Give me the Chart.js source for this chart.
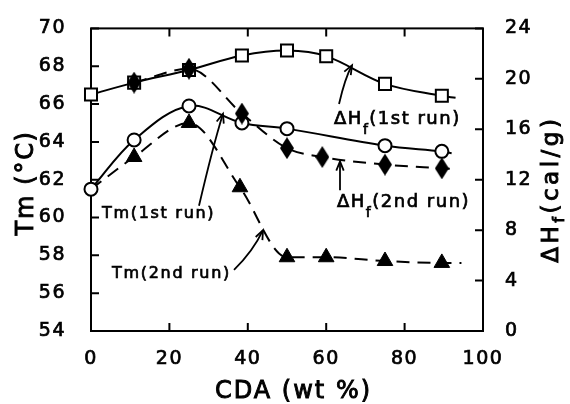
<!DOCTYPE html>
<html><head><meta charset="utf-8">
<script src="https://cdn.jsdelivr.net/npm/chart.js@4/dist/chart.umd.min.js"></script>
<style>html,body{margin:0;padding:0;background:#fff}canvas{display:block}</style>
</head><body>
<canvas id="c" width="570" height="404"></canvas>
<script>
// ---- data ----
// last entry of each series is only where the drawn curve ends (no marker)
const cdaTm1 = [0, 11, 25, 38.5, 50, 75, 89.5, 92];
const tm1Run = [61.5, 64.1, 65.9, 65.0, 64.7, 63.8, 63.5, 63.4];
const cdaTm2 = [0, 11, 25, 38, 50, 60, 75, 89.5, 94.5];
const tm2Run = [61.5, 63.2, 65.0, 61.6, 57.9, 57.9, 57.7, 57.6, 57.6];
const cdaH1 = [0, 11, 25, 38.5, 50, 60, 75, 89.5, 93];
const dH1Run = [18.75, 19.7, 20.7, 21.85, 22.25, 21.8, 19.6, 18.65, 18.5];
const cdaH2 = [11, 25, 38.5, 50, 59, 75, 89.5, 92];
const dH2Run = [19.7, 20.8, 17.25, 14.5, 13.8, 13.2, 12.9, 12.85];
const xTicks = [0, 20, 40, 60, 80, 100];
const tmTicks = [54, 56, 58, 60, 62, 64, 66, 68, 70];
const dHTicks = [0, 4, 8, 12, 16, 20, 24];

const FONT = "'DejaVu Sans', sans-serif";
const pts = (xs, ys) => xs.map((x, i) => ({x, y: ys[i]}));

// tall diamond marker
const diamond = document.createElement('canvas');
diamond.width = 14; diamond.height = 22;
(function(){const g = diamond.getContext('2d'); g.fillStyle = '#000'; g.beginPath();
  g.moveTo(7,0); g.lineTo(14,11); g.lineTo(7,22); g.lineTo(0,11); g.closePath(); g.fill();})();

const lastOff = (r, skipFirst) => ctx => {
  const n = ctx.dataset.data.length;
  if (ctx.dataIndex === n - 1) return 0;
  if (skipFirst && ctx.dataIndex === 0) return 0;
  return r;
};

const frameTicks = {
  id: 'frameTicks',
  beforeDraw(chart) { chart.ctx.letterSpacing = '1.5px'; },
  beforeDatasetsDraw(chart) {
    const {ctx, chartArea: {left, right, top, bottom}, scales: {x, y, y2}} = chart;
    ctx.save();
    ctx.strokeStyle = '#000'; ctx.lineWidth = 2;
    ctx.strokeRect(left, top, right - left, bottom - top);
    ctx.beginPath();
    x.ticks.forEach(t => { const p = x.getPixelForValue(t.value);
      ctx.moveTo(p, bottom); ctx.lineTo(p, bottom - 8); ctx.moveTo(p, top); ctx.lineTo(p, top + 8); });
    y.ticks.forEach(t => { const p = y.getPixelForValue(t.value); ctx.moveTo(left, p); ctx.lineTo(left + 8, p); });
    y2.ticks.forEach(t => { const p = y2.getPixelForValue(t.value); ctx.moveTo(right, p); ctx.lineTo(right - 8, p); });
    ctx.stroke();
    ctx.restore();
  },
  afterDraw(chart) {
    const {ctx, chartArea, scales: {x, y}} = chart;
    const P = (a, b) => [x.getPixelForValue(a), y.getPixelForValue(b)];
    function rich(parts, px, py, spacing, sw) {
      let cx = px;
      parts.forEach(p => {
        ctx.font = p.size + 'px ' + FONT;
        ctx.letterSpacing = spacing + 'px';
        ctx.lineWidth = sw || 0.7;
        ctx.fillText(p.t, cx, py + (p.dy || 0));
        ctx.strokeText(p.t, cx, py + (p.dy || 0));
        cx += ctx.measureText(p.t).width;
      });
      ctx.letterSpacing = '0px';
    }
    function arrow(s, c, t) {
      const [sx, sy] = P(...s), [cx, cy] = P(...c), [tx, ty] = P(...t);
      ctx.lineWidth = 1.8;
      ctx.beginPath(); ctx.moveTo(sx, sy); ctx.quadraticCurveTo(cx, cy, tx, ty); ctx.stroke();
      const ang = Math.atan2(ty - cy, tx - cx);
      ctx.beginPath();
      ctx.moveTo(tx - 10 * Math.cos(ang - 0.38), ty - 10 * Math.sin(ang - 0.38));
      ctx.lineTo(tx, ty);
      ctx.lineTo(tx - 10 * Math.cos(ang + 0.38), ty - 10 * Math.sin(ang + 0.38));
      ctx.stroke();
    }
    ctx.save();
    ctx.fillStyle = '#000'; ctx.strokeStyle = '#000';
    ctx.textBaseline = 'alphabetic'; ctx.textAlign = 'left';
    // annotations
    let [ax, ay] = P(62.0, 64.97);
    rich([{t: 'ΔH', size: 18}, {t: 'f', size: 14, dy: 10}, {t: '(1st run)', size: 18}], ax, ay, 1.5);
    arrow([63.27, 66.0], [64.8, 67.38], [66.58, 68.05]);
    [ax, ay] = P(62.76, 60.56);
    rich([{t: 'ΔH', size: 18}, {t: 'f', size: 14, dy: 10}, {t: '(2nd run)', size: 18}], ax, ay, 1.5);
    arrow([63.52, 61.44], [63.52, 62.2], [63.52, 62.97]);
    [ax, ay] = P(2.8, 59.95);
    rich([{t: 'Tm(1st run)', size: 16}], ax, ay, 1.7);
    arrow([27.55, 60.62], [31.12, 63.79], [33.67, 65.49]);
    [ax, ay] = P(5.36, 56.82);
    rich([{t: 'Tm(2nd run)', size: 16}], ax, ay, 1.7);
    arrow([36.48, 57.23], [41.33, 58.21], [43.88, 59.33]);
    // x axis title
    rich([{t: 'CDA (wt %)', size: 24}], chartArea.left + 124, chartArea.bottom + 67, 2, 0.9);
    ctx.save();
    // left axis title (rotated)
    ctx.translate(chartArea.left - 58, chartArea.top + 207);
    ctx.rotate(-Math.PI / 2);
    rich([{t: 'Tm (°C)', size: 24}], 0, 0, 1.7, 0.9);
    ctx.restore();
    // right axis title (rotated)
    ctx.translate(chartArea.right + 75, (chartArea.top + chartArea.bottom) / 2 + 83);
    ctx.rotate(-Math.PI / 2);
    rich([{t: 'ΔH', size: 23}, {t: 'f', size: 16, dy: 6}, {t: '(cal/g)', size: 23}], 0, 0, 3.5, 0.9);
    ctx.restore();
  }
};

const tickOpts = (pad) => ({font: {family: FONT, size: 19}, color: '#000', padding: pad,
  textStrokeColor: '#000', textStrokeWidth: 0.7, maxRotation: 0});
new Chart(document.getElementById('c'), {
  type: 'line',
  data: {
    datasets: [
      {label: 'ΔHf (2nd run)', data: pts(cdaH2, dH2Run), yAxisID: 'y2', order: 0,
       borderColor: '#000', borderWidth: 2, borderDash: [13, 8], cubicInterpolationMode: 'monotone',
       pointStyle: diamond, pointRadius: lastOff(8), backgroundColor: '#000', clip: false},
      {label: 'Tm (1st run)', data: pts(cdaTm1, tm1Run), yAxisID: 'y', order: 1,
       borderColor: '#000', borderWidth: 2, tension: 0.35,
       pointStyle: 'circle', pointRadius: lastOff(6.5), pointBorderWidth: 2,
       pointBackgroundColor: '#fff', pointBorderColor: '#000', clip: false},
      {label: 'ΔHf (1st run)', data: pts(cdaH1, dH1Run), yAxisID: 'y2', order: 2,
       borderColor: '#000', borderWidth: 2, tension: 0.35,
       pointStyle: 'rect', pointRadius: lastOff(8.5), pointBorderWidth: 2,
       pointBackgroundColor: '#fff', pointBorderColor: '#000', clip: false},
      {label: 'Tm (2nd run)', data: pts(cdaTm2, tm2Run), yAxisID: 'y', order: 3,
       borderColor: '#000', borderWidth: 2, borderDash: [13, 8], cubicInterpolationMode: 'monotone',
       pointStyle: 'triangle', pointRadius: lastOff(9, true), pointBorderWidth: 1,
       pointBackgroundColor: '#000', pointBorderColor: '#000', clip: false}
    ]
  },
  options: {
    responsive: false, animation: false, devicePixelRatio: 1,
    layout: {padding: {top: 19, left: 0, right: 0, bottom: 0}},
    plugins: {legend: {display: false}, tooltip: {enabled: false}},
    scales: {
      x: {type: 'linear', position: 'bottom', min: 0, max: 100,
          afterBuildTicks: s => { s.ticks = xTicks.map(v => ({value: v})); },
          ticks: tickOpts(9),
          grid: {display: false}, border: {display: false},
          title: {display: false, text: 'CDA (wt %)'},
          afterFit: s => { s.height = 73; }},
      y: {type: 'linear', position: 'left', min: 54, max: 70,
          afterBuildTicks: s => { s.ticks = tmTicks.map(v => ({value: v})); },
          ticks: tickOpts(17),
          grid: {display: false}, border: {display: false},
          title: {display: false, text: 'Tm (°C)'},
          afterFit: s => { s.width = 91; }},
      y2: {type: 'linear', position: 'right', min: 0, max: 24,
          afterBuildTicks: s => { s.ticks = dHTicks.map(v => ({value: v})); },
          ticks: tickOpts(14),
          grid: {display: false}, border: {display: false},
          title: {display: false},
          afterFit: s => { s.width = 87; }}
    }
  },
  plugins: [frameTicks]
});
</script>
</body></html>
